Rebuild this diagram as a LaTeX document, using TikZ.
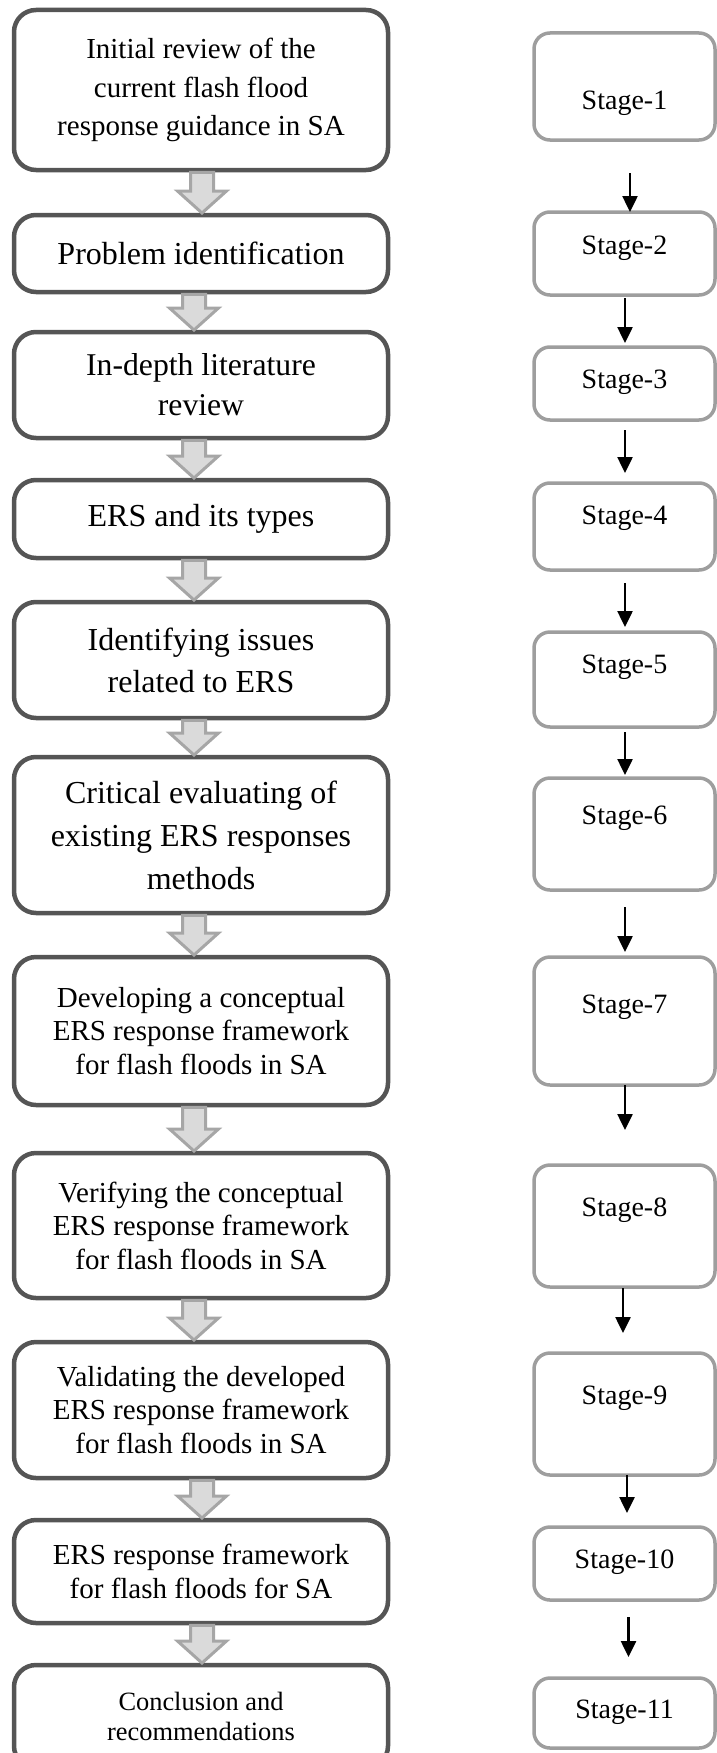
\documentclass[tikz,border=0pt]{standalone}
\usepackage{fontspec}
\setmainfont{Liberation Serif}
\usetikzlibrary{arrows.meta,calc}

\definecolor{stepline}{HTML}{555555}
\definecolor{stageline}{HTML}{9E9E9E}
\definecolor{barrowline}{HTML}{A6A6A6}
\definecolor{barrowfill}{HTML}{DADADA}

\tikzset{
  stepbox/.style={draw=stepline, line width=4.5pt, rounded corners=22pt,
    minimum width=374pt, inner sep=0pt, outer sep=0pt, align=center, text=black},
  stagebox/.style={draw=stageline, line width=3.5pt, rounded corners=16pt,
    minimum width=181pt, inner sep=0pt, outer sep=0pt},
  stagelabel/.style={font=\fontsize{28}{33}\selectfont, inner sep=0pt, text=black},
  stagearrow/.style={line width=2.5pt, draw=black, -{Triangle[length=16pt,width=15pt]}},
  blockarrow/.style={draw=barrowline, fill=barrowfill, line width=3pt, line join=miter},
}

% hollow block arrow between two step boxes (from, to, horizontal offset)
\newcommand\flowarrow[3]{%
  \path[blockarrow] let \p1=([xshift=#3pt]#1.south), \p2=(#2.north) in
    (\x1-11.5pt,\y1-2.25pt) -- (\x1+11.5pt,\y1-2.25pt) -- (\x1+11.5pt,\y2+24pt)
    -- (\x1+24.5pt,\y2+24pt) -- (\x1,\y2+2pt) -- (\x1-24.5pt,\y2+24pt)
    -- (\x1-11.5pt,\y2+24pt) -- cycle;}

\begin{document}
\begin{tikzpicture}[x=1pt,y=-1pt]
\clip (0,0) rectangle (717,1753);

% research steps
\node[stepbox, minimum height=160pt, font=\fontsize{29}{38.5}\selectfont] (b1) at (201,90)
  {Initial review of the\\current flash flood\\response guidance in SA};
\node[stepbox, minimum height=77pt, font=\fontsize{32}{38}\selectfont] (b2) at (201,253.5)
  {Problem identification};
\node[stepbox, minimum height=106pt, font=\fontsize{31.7}{40}\selectfont] (b3) at (201,385)
  {In-depth literature\\review};
\node[stepbox, minimum height=78pt, font=\fontsize{32}{38}\selectfont] (b4) at (201,519)
  {ERS and its types};
\node[stepbox, minimum height=116pt, font=\fontsize{32}{42}\selectfont] (b5) at (201,660)
  {Identifying issues\\related to ERS};
\node[stepbox, minimum height=156pt, font=\fontsize{32}{43}\selectfont] (b6) at (201,835)
  {Critical evaluating of\\existing ERS responses\\methods};
\node[stepbox, minimum height=148pt, font=\fontsize{29}{33.5}\selectfont] (b7) at (201,1031)
  {Developing a conceptual\\ERS response framework\\for flash floods in SA};
\node[stepbox, minimum height=145pt, font=\fontsize{29}{33.5}\selectfont] (b8) at (201,1225.5)
  {Verifying the conceptual\\ERS response framework\\for flash floods in SA};
\node[stepbox, minimum height=136pt, font=\fontsize{29}{33.5}\selectfont] (b9) at (201,1410)
  {Validating the developed\\ERS response framework\\for flash floods in SA};
\node[stepbox, minimum height=103pt, font=\fontsize{29}{33.5}\selectfont] (b10) at (201,1571.5)
  {ERS response framework\\for flash floods for SA};
\node[stepbox, minimum height=103pt, font=\fontsize{26.4}{30}\selectfont] (b11) at (201,1716.5)
  {Conclusion and\\recommendations};

% block arrows between steps
\flowarrow{b1}{b2}{1}
\flowarrow{b2}{b3}{-7}
\flowarrow{b3}{b4}{-7}
\flowarrow{b4}{b5}{-7}
\flowarrow{b5}{b6}{-7}
\flowarrow{b6}{b7}{-7}
\flowarrow{b7}{b8}{-7}
\flowarrow{b8}{b9}{-7}
\flowarrow{b9}{b10}{1}
\flowarrow{b10}{b11}{1}

% stages
\node[stagebox, minimum height=107pt, label={[stagelabel,yshift=-16.5pt]center:Stage-1}] (s1) at (624.5,86.5) {};
\node[stagebox, minimum height=83pt,  label={[stagelabel,yshift=5.5pt]center:Stage-2}] (s2) at (624.5,253.5) {};
\node[stagebox, minimum height=73pt,  label={[stagelabel,yshift=1.5pt]center:Stage-3}] (s3) at (624.5,383.5) {};
\node[stagebox, minimum height=87pt,  label={[stagelabel,yshift=8.5pt]center:Stage-4}] (s4) at (624.5,526.5) {};
\node[stagebox, minimum height=95pt,  label={[stagelabel,yshift=12.5pt]center:Stage-5}] (s5) at (624.5,679.5) {};
\node[stagebox, minimum height=112pt, label={[stagelabel,yshift=16pt]center:Stage-6}] (s6) at (624.5,834) {};
\node[stagebox, minimum height=128pt, label={[stagelabel,yshift=14pt]center:Stage-7}] (s7) at (624.5,1021) {};
\node[stagebox, minimum height=122pt, label={[stagelabel,yshift=16pt]center:Stage-8}] (s8) at (624.5,1226) {};
\node[stagebox, minimum height=122pt, label={[stagelabel,yshift=16pt]center:Stage-9}] (s9) at (624.5,1414) {};
\node[stagebox, minimum height=73pt,  label={[stagelabel,yshift=1.5pt]center:Stage-10}] (s10) at (624.5,1563.5) {};
\node[stagebox, minimum height=70pt,  label={[stagelabel,yshift=1pt]center:Stage-11}] (s11) at (624.5,1713) {};

% arrows between stages
\draw[stagearrow, shorten <=33pt, shorten >=0pt] ([xshift=5.5pt]s1.south) -- ([xshift=5.5pt]s2.north);
\draw[stagearrow, shorten <=3pt,  shorten >=4pt] ([xshift=0.5pt]s2.south) -- ([xshift=0.5pt]s3.north);
\draw[stagearrow, shorten <=10pt, shorten >=10pt] ([xshift=0.5pt]s3.south) -- ([xshift=0.5pt]s4.north);
\draw[stagearrow, shorten <=13pt, shorten >=5pt] ([xshift=0.5pt]s4.south) -- ([xshift=0.5pt]s5.north);
\draw[stagearrow, shorten <=5pt,  shorten >=3pt] ([xshift=0.5pt]s5.south) -- ([xshift=0.5pt]s6.north);
\draw[stagearrow, shorten <=17pt, shorten >=5pt] ([xshift=0.5pt]s6.south) -- ([xshift=0.5pt]s7.north);
\draw[stagearrow, shorten <=0pt,  shorten >=35pt] ([xshift=0.5pt]s7.south) -- ([xshift=0.5pt]s8.north);
\draw[stagearrow, shorten <=1pt,  shorten >=20pt] ([xshift=-1.5pt]s8.south) -- ([xshift=-1.5pt]s9.north);
\draw[stagearrow, shorten <=0pt,  shorten >=14pt] ([xshift=2.5pt]s9.south) -- ([xshift=2.5pt]s10.north);
\draw[stagearrow, shorten <=17pt, shorten >=21pt] ([xshift=4pt]s10.south) -- ([xshift=4pt]s11.north);
\end{tikzpicture}
\end{document}
